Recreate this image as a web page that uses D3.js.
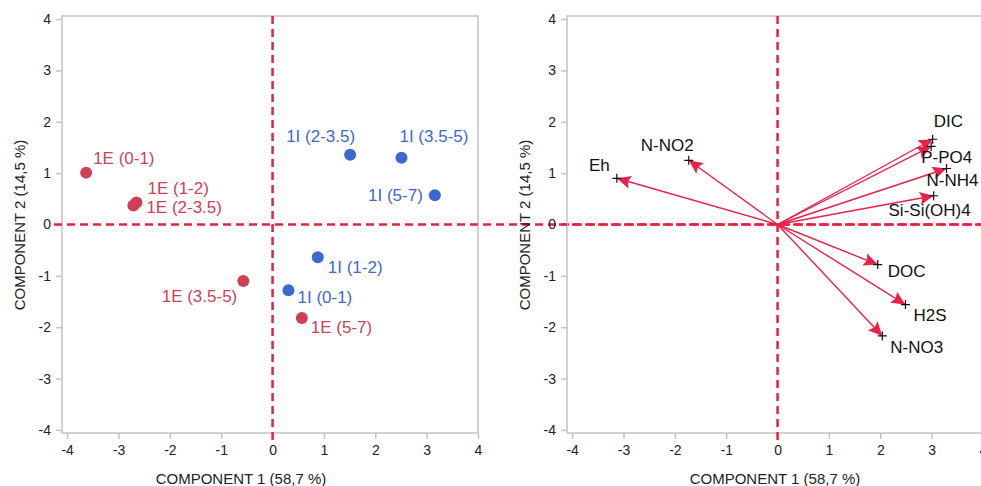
<!DOCTYPE html>
<html>
<head>
<meta charset="utf-8">
<script src="https://cdn.jsdelivr.net/npm/d3@7"></script>
<style>
  html, body { margin: 0; padding: 0; background: #fff; overflow: hidden; }
  svg { display: block; }
  text { font-family: "Liberation Sans", Arial, Helvetica, sans-serif; }
</style>
</head>
<body>
<svg id="chart" width="981" height="486"></svg>
<script>
// ---- data ----
const sampleNames = ["1E (0-1)", "1E (1-2)", "1E (2-3.5)", "1E (3.5-5)", "1E (5-7)",
                     "1I (0-1)", "1I (1-2)", "1I (2-3.5)", "1I (3.5-5)", "1I (5-7)"];
const sampleGroup = ["E", "E", "E", "E", "E", "I", "I", "I", "I", "I"];
const sampleC1 = [-3.63, -2.65, -2.71, -0.57, 0.57, 0.31, 0.88, 1.51, 2.51, 3.16];
const sampleC2 = [1.01, 0.43, 0.37, -1.10, -1.82, -1.28, -0.64, 1.36, 1.30, 0.57];

const varNames = ["Eh", "N-NO2", "DIC", "P-PO4", "N-NH4", "Si-Si(OH)4", "DOC", "H2S", "N-NO3"];
const varC1 = [-3.13, -1.73, 3.02, 2.99, 3.29, 3.04, 1.95, 2.49, 2.04];
const varC2 = [0.90, 1.25, 1.66, 1.52, 1.09, 0.56, -0.78, -1.56, -2.17];

const xTicks = [-4, -3, -2, -1, 0, 1, 2, 3, 4];
const yTicks = [-4, -3, -2, -1, 0, 1, 2, 3, 4];
const xTitle = "COMPONENT 1 (58,7 %)";
const yTitle = "COMPONENT 2 (14,5 %)";

// ---- layout / style ----
const groupColor = { E: "#cf3f55", I: "#3d68d2" };
const refColor = "#e8213f";
const arrowColor = "#e8214a";
const frameColor = "#c4c4c4";
// label offsets (dx, dy, anchor) for sample labels
const sampleLabelOff = [[7, -9, "start"], [11, -8, "start"], [13, 8, "start"], [-6, 21, "end"], [9, 15, "start"],
                        [9, 13, "start"], [10, 16, "start"], [5, -13, "end"], [-2, -16, "start"], [-12, 6, "end"]];
const varLabelOff = [[-7, -7, "end"], [5, -9, "end"], [1, -12, "start"], [-10, 17, "start"], [-20, 17, "start"],
                     [37, 20, "end"], [10, 12, "start"], [8, 16, "start"], [8, 17, "start"]];

const svg = d3.select("#chart");
const yScale = d3.scaleLinear().domain([-4.06, 4.06]).range([433, 16]);
const fmt = d => String(d);

function panel(x0, x1, titleX, yTitleX) {
  const xScale = d3.scaleLinear().domain([-4.1, 4]).range([x0, x1]);
  const g = svg.append("g");
  // frame
  g.append("rect").attr("x", x0).attr("y", yScale.range()[1])
    .attr("width", x1 - x0).attr("height", yScale.range()[0] - yScale.range()[1])
    .attr("fill", "none").attr("stroke", frameColor).attr("stroke-width", 1.5);
  // axes
  const ax = g.append("g").attr("transform", `translate(0,${yScale.range()[0]})`)
    .call(d3.axisBottom(xScale).tickValues(xTicks).tickFormat(fmt).tickSize(6).tickPadding(6));
  const ay = g.append("g").attr("transform", `translate(${x0},0)`)
    .call(d3.axisLeft(yScale).tickValues(yTicks).tickFormat(fmt).tickSize(6).tickPadding(5));
  [ax, ay].forEach(a => {
    a.select(".domain").remove();
    a.selectAll(".tick line").attr("stroke", frameColor).attr("stroke-width", 1.5);
    a.selectAll(".tick text").attr("fill", "#222").style("font-size", "14px")
      .style("font-family", "'Liberation Sans', Arial, sans-serif");
  });
  // reference dashed lines
  g.append("line").attr("x1", x0 - 8).attr("x2", Math.max(x1, 981))
    .attr("y1", yScale(0)).attr("y2", yScale(0))
    .attr("stroke", refColor).attr("stroke-width", 2.5).attr("stroke-dasharray", "8,5");
  g.append("line").attr("x1", xScale(0)).attr("x2", xScale(0))
    .attr("y1", yScale.range()[1]).attr("y2", yScale.range()[0] + 7)
    .attr("stroke", refColor).attr("stroke-width", 2.5).attr("stroke-dasharray", "8,5");
  // titles
  g.append("text").attr("x", titleX).attr("y", 484).attr("text-anchor", "middle")
    .attr("fill", "#222").style("font-size", "15px").text(xTitle);
  g.append("text").attr("transform", `translate(${yTitleX},225) rotate(-90)`)
    .attr("text-anchor", "middle").attr("fill", "#222").style("font-size", "15px").text(yTitle);
  return { g, xScale };
}

// left panel: scores
const L = panel(62, 478, 241, 25);
const samples = sampleNames.map((n, i) => ({ n, c1: sampleC1[i], c2: sampleC2[i], grp: sampleGroup[i], off: sampleLabelOff[i] }));
L.g.selectAll("circle.pt").data(samples).join("circle").attr("class", "pt")
  .attr("cx", d => L.xScale(d.c1)).attr("cy", d => yScale(d.c2)).attr("r", 6)
  .attr("fill", d => groupColor[d.grp]);
L.g.selectAll("text.lbl").data(samples).join("text").attr("class", "lbl")
  .attr("x", d => L.xScale(d.c1) + d.off[0]).attr("y", d => yScale(d.c2) + d.off[1])
  .attr("text-anchor", d => d.off[2]).attr("fill", d => groupColor[d.grp])
  .style("font-size", "17px").text(d => d.n);

// right panel: loadings
const R = panel(567, 983, 775, 530);
const vars = varNames.map((n, i) => ({ n, c1: varC1[i], c2: varC2[i], off: varLabelOff[i] }));
const ox = R.xScale(0), oy = yScale(0);
R.g.selectAll("line.arr").data(vars).join("line").attr("class", "arr")
  .attr("x1", ox).attr("y1", oy)
  .attr("x2", d => R.xScale(d.c1)).attr("y2", d => yScale(d.c2))
  .attr("stroke", arrowColor).attr("stroke-width", 1.4);
R.g.selectAll("path.head").data(vars).join("path").attr("class", "head")
  .attr("d", "M0,0 L-14,-6.5 L-11.5,0 L-14,6.5 Z")
  .attr("fill", arrowColor)
  .attr("transform", d => {
    const ex = R.xScale(d.c1), ey = yScale(d.c2);
    const ang = Math.atan2(ey - oy, ex - ox) * 180 / Math.PI;
    return `translate(${ex},${ey}) rotate(${ang})`;
  });
R.g.selectAll("path.cross").data(vars).join("path").attr("class", "cross")
  .attr("d", "M-4.5,0 L4.5,0 M0,-4.5 L0,4.5")
  .attr("stroke", "#111").attr("stroke-width", 1.2)
  .attr("transform", d => `translate(${R.xScale(d.c1)},${yScale(d.c2)})`);
R.g.selectAll("text.vl").data(vars).join("text").attr("class", "vl")
  .attr("x", d => R.xScale(d.c1) + d.off[0]).attr("y", d => yScale(d.c2) + d.off[1])
  .attr("text-anchor", d => d.off[2]).attr("fill", "#111")
  .style("font-size", "17px").text(d => d.n);
</script>
</body>
</html>
